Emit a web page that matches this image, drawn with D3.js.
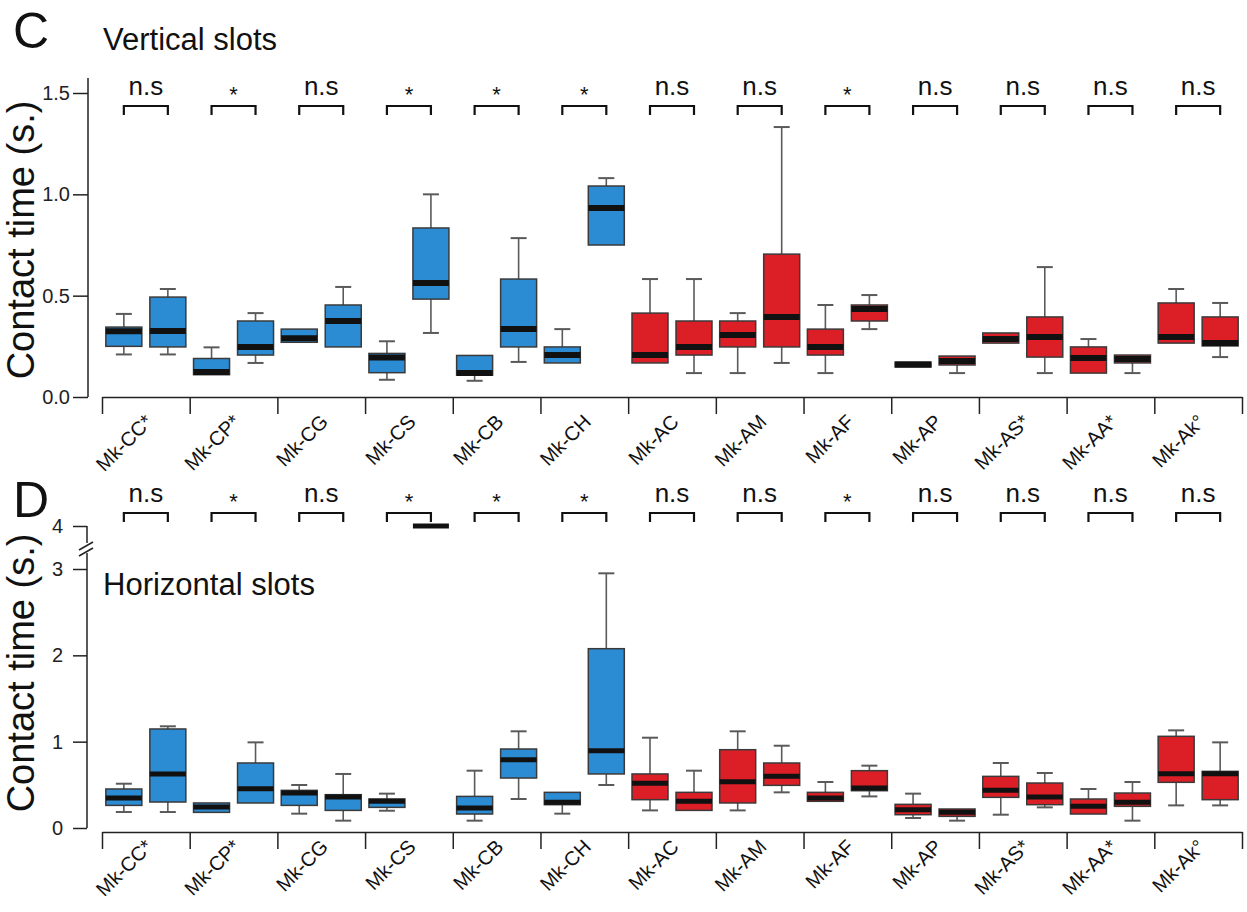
<!DOCTYPE html>
<html><head><meta charset="utf-8">
<script src="https://cdn.jsdelivr.net/npm/d3@7"></script>
<style>body{margin:0;background:#fff}svg{display:block}</style>
</head><body>
<svg id="c" width="1247" height="912"></svg>
<script>
// ---------- DATA ----------
const categories = ["Mk-CC*","Mk-CP*","Mk-CG","Mk-CS","Mk-CB","Mk-CH","Mk-AC","Mk-AM","Mk-AF","Mk-AP","Mk-AS*","Mk-AA*","Mk-Ak°"];
const family = ["C","C","C","C","C","C","A","A","A","A","A","A","A"];
const sigVertical   = ["n.s","*","n.s","*","*","*","n.s","n.s","*","n.s","n.s","n.s","n.s"];
const sigHorizontal = ["n.s","*","n.s","*","*","*","n.s","n.s","*","n.s","n.s","n.s","n.s"];
// each entry: [lower whisker, q1, median, q3, upper whisker] (null = not drawn)
const vertFirst = [
  [0.21,0.25,0.325,0.345,0.41],
  [null,0.11,0.123,0.19,0.245],
  [null,0.27,0.29,0.335,null],
  [0.085,0.12,0.195,0.215,0.275],
  [0.08,0.108,0.118,0.205,null],
  [null,0.168,0.207,0.247,0.335],
  [null,0.168,0.207,0.414,0.582],
  [0.118,0.247,0.306,0.375,0.414],
  [0.118,0.207,0.247,0.335,0.454],
  [null,0.148,0.16,0.172,null],
  [null,0.266,0.286,0.316,null],
  [null,0.118,0.192,0.247,0.286],
  [null,0.266,0.296,0.464,0.533]
];
const vertSecond = [
  [0.21,0.247,0.326,0.493,0.533],
  [0.168,0.207,0.247,0.375,0.414],
  [null,0.247,0.375,0.454,0.543],
  [0.316,0.483,0.562,0.834,1.0],
  [0.173,0.247,0.335,0.582,0.784],
  [null,0.75,0.932,1.041,1.08],
  [0.118,0.207,0.247,0.375,0.582],
  [0.168,0.247,0.395,0.705,1.332],
  [0.335,0.375,0.434,0.454,0.503],
  [0.118,0.158,0.178,0.202,null],
  [0.118,0.197,0.296,0.395,0.641],
  [0.118,0.168,0.187,0.207,null],
  [0.197,0.252,0.266,0.395,0.464]
];
const horizFirst = [
  [0.185,0.262,0.348,0.452,0.513],
  [null,0.181,0.243,0.29,null],
  [0.166,0.262,0.405,0.436,0.498],
  [0.2,0.239,0.309,0.336,0.398],
  [0.085,0.162,0.232,0.366,0.664],
  [0.166,0.27,0.297,0.413,null],
  [0.204,0.328,0.517,0.626,1.046],
  [0.204,0.29,0.537,0.907,1.12],
  [null,0.309,0.348,0.413,0.533],
  [0.116,0.154,0.212,0.274,0.398],
  [0.154,0.355,0.436,0.598,0.753],
  [null,0.162,0.251,0.336,0.452],
  [0.262,0.529,0.629,1.062,1.131]
];
const horizSecond = [
  [0.185,0.301,0.626,1.147,1.178],
  [null,0.29,0.455,0.753,0.992],
  [0.085,0.204,0.359,0.386,0.626],
  [null,null,4,null,null],          // off-scale, only median shown at the break
  [0.336,0.579,0.791,0.915,1.12],
  [0.498,0.626,0.896,2.077,2.95],
  [null,0.204,0.309,0.413,0.664],
  [0.413,0.494,0.598,0.753,0.953],
  [0.366,0.432,0.463,0.664,0.722],
  [0.085,0.135,0.181,0.22,null],
  [0.239,0.27,0.359,0.521,0.637],
  [0.085,0.251,0.297,0.405,0.533],
  [0.262,0.328,0.629,0.656,0.992]
];
const vertTicks = [0, 0.5, 1.0, 1.5];
const horizTicks = [0, 1, 2, 3, 4];

// ---------- DRAW ----------
const FONT = "'Liberation Sans', Arial, Helvetica, sans-serif";
const svg = d3.select("#c").style("font-family", FONT);
svg.append("rect").attr("width",1247).attr("height",912).attr("fill","#fff");

const color = d3.scaleOrdinal().domain(["C","A"]).range(["#2b8cd4","#dc1f26"]);
const xBand = d3.scaleBand().domain(categories).range([102,1242]).padding(0);
const xEdge = d3.scaleLinear().domain([0, categories.length]).range([102,1242]);
const OFF = 22, BW = 36, CAP = 16;

function drawPanel(o){
  const g = svg.append("g");
  const y = o.y;
  // y axis
  const ya = d3.axisLeft(y).tickValues(o.ticks).tickFormat(o.fmt).tickSize(o.tickLen).tickPadding(o.tickPad);
  const yg = g.append("g").attr("transform",`translate(${o.axisX},0)`).call(ya);
  yg.select(".domain").remove();
  yg.selectAll(".tick line").attr("stroke","#222").attr("stroke-width",1.5);
  yg.selectAll(".tick text").attr("font-size",20).attr("fill","#222").attr("font-family",FONT);
  o.domainSegs.forEach(s=>{
    g.append("line").attr("x1",o.axisX).attr("x2",o.axisX).attr("y1",s[0]).attr("y2",s[1])
      .attr("stroke","#222").attr("stroke-width",1.5);
  });
  // x axis (boundary ticks)
  const xa = d3.axisBottom(xEdge).tickValues(d3.range(categories.length+1)).tickFormat("").tickSize(17).tickSizeOuter(0);
  const xg = g.append("g").attr("transform",`translate(0,${o.xAxisY})`).call(xa);
  xg.selectAll("path.domain").attr("stroke","#222").attr("stroke-width",1.5);
  xg.selectAll(".tick line").attr("stroke","#222").attr("stroke-width",1.5);
  // category labels (rotated -45)
  categories.forEach((c,i)=>{
    const cx = xBand(c) + xBand.bandwidth()/2;
    g.append("text").attr("font-size",20).attr("fill","#111").attr("text-anchor","end")
      .attr("transform",`translate(${cx+o.labDx},${o.xAxisY+o.labDy}) rotate(-45)`).text(c);
  });
  // boxes
  [o.first,o.second].forEach((arr,k)=>{
    arr.forEach((d,i)=>{
      const cx = xBand(categories[i]) + xBand.bandwidth()/2 + (k===0?-OFF:OFF);
      const [lo,q1,med,q3,hi] = d;
      const wc = "#5a5a5a";
      if(hi!=null && q3!=null){
        g.append("line").attr("x1",cx).attr("x2",cx).attr("y1",y(q3)).attr("y2",y(hi)).attr("stroke",wc).attr("stroke-width",1.6);
        g.append("line").attr("x1",cx-CAP/2).attr("x2",cx+CAP/2).attr("y1",y(hi)).attr("y2",y(hi)).attr("stroke",wc).attr("stroke-width",2);
      }
      if(lo!=null && q1!=null){
        g.append("line").attr("x1",cx).attr("x2",cx).attr("y1",y(q1)).attr("y2",y(lo)).attr("stroke",wc).attr("stroke-width",1.6);
        g.append("line").attr("x1",cx-CAP/2).attr("x2",cx+CAP/2).attr("y1",y(lo)).attr("y2",y(lo)).attr("stroke",wc).attr("stroke-width",2);
      }
      if(q1!=null && q3!=null){
        g.append("rect").attr("x",cx-BW/2).attr("width",BW).attr("y",y(q3)).attr("height",Math.max(1,y(q1)-y(q3)))
          .attr("fill",color(family[i])).attr("stroke","#3a3a3a").attr("stroke-width",1.5);
      }
      g.append("line").attr("x1",cx-BW/2).attr("x2",cx+BW/2).attr("y1",y(med)).attr("y2",y(med))
        .attr("stroke","#111").attr("stroke-width",o.medW);
    });
  });
  // significance brackets
  o.sig.forEach((s,i)=>{
    const cx = xBand(categories[i]) + xBand.bandwidth()/2;
    const by = o.brY;
    g.append("path").attr("d",`M${cx-OFF},${by+9}V${by}H${cx+OFF}V${by+9}`).attr("fill","none")
      .attr("stroke","#111").attr("stroke-width",2.2);
    if(s==="*") g.append("text").attr("x",cx).attr("y",by-4).attr("text-anchor","middle").attr("font-size",22).attr("fill","#111").text("*");
    else g.append("text").attr("x",cx).attr("y",by-11).attr("text-anchor","middle").attr("font-size",26).attr("fill","#111").text(s);
  });
  // titles
  g.append("text").attr("transform",`translate(34,${o.titleY}) rotate(-90)`).attr("text-anchor","middle")
    .attr("font-size",38).attr("fill","#111").text("Contact time (s.)");
  g.append("text").attr("x",13).attr("y",o.letterY).attr("font-size",50).attr("fill","#111").text(o.letter);
  g.append("text").attr("x",103).attr("y",o.subY).attr("font-size",31).attr("fill","#111").text(o.sub);
}

drawPanel({
  y: d3.scaleLinear().domain([0,1.5]).range([397,93]),
  ticks: vertTicks, fmt: d3.format(".1f"), tickLen: 15, tickPad: 3, axisX: 88,
  domainSegs: [[78,397]], xAxisY: 397, labDx: 8, labDy: 26,
  first: vertFirst, second: vertSecond, medW: 6,
  sig: sigVertical, brY: 106, titleY: 240, letter: "C", letterY: 48, sub: "Vertical slots", subY: 50
});
drawPanel({
  y: d3.scaleLinear().domain([0,3,4]).range([828,569,526]),
  ticks: horizTicks, fmt: d3.format("d"), tickLen: 14, tickPad: 10, axisX: 87,
  domainSegs: [[526,543],[553,828]], xAxisY: 832, labDx: 8, labDy: 16,
  first: horizFirst, second: horizSecond, medW: 5,
  sig: sigHorizontal, brY: 513, titleY: 673, letter: "D", letterY: 517, sub: "Horizontal slots", subY: 595
});
// axis break marks
const brk = svg.append("g").attr("stroke","#222").attr("stroke-width",1.5);
brk.append("line").attr("x1",79).attr("y1",550).attr("x2",93).attr("y2",542);
brk.append("line").attr("x1",79).attr("y1",556).attr("x2",93).attr("y2",548);
</script>
</body></html>
